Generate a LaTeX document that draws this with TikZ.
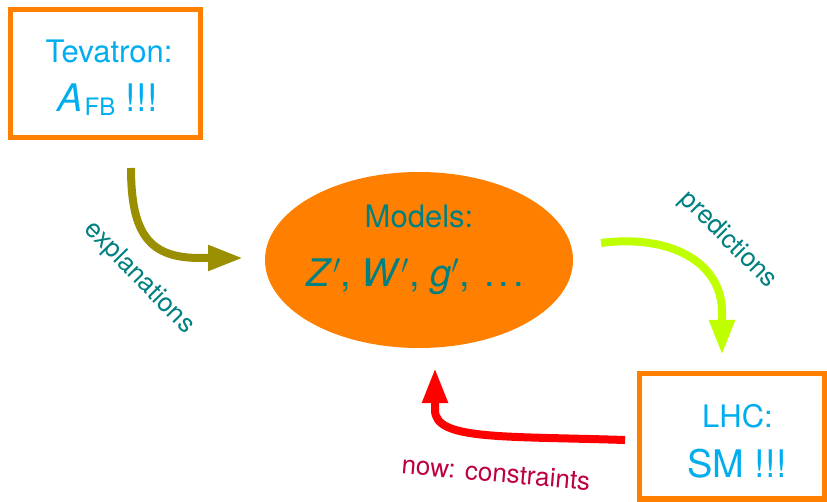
\RequirePackage{fix-cm}
\documentclass[tikz,border=0pt]{standalone}
\usepackage{fontspec}
\setmainfont{TeX Gyre Heros}
\usetikzlibrary{arrows.meta,shapes.geometric}

\definecolor{frameorange}{RGB}{255,128,0}
\definecolor{skytext}{RGB}{0,174,239}
\definecolor{tealtext}{RGB}{0,128,128}
\definecolor{olivearrow}{RGB}{153,143,0}
\definecolor{limearrow}{RGB}{191,255,0}
\definecolor{flowred}{RGB}{255,0,0}
\definecolor{constrainttext}{RGB}{191,0,64}

\tikzset{
  framebox/.style={draw=frameorange, line width=5.5pt, fill=white, inner sep=0pt},
  headline/.style={font=\fontsize{31}{37}\selectfont, inner sep=0pt, anchor=base},
  bigline/.style={font=\fontsize{38}{45}\selectfont, inner sep=0pt, anchor=base},
  sidelabel/.style={font=\fontsize{26}{31}\selectfont, text=tealtext, inner sep=0pt},
  flow/.style={line width=8pt, -{Triangle[length=35pt,width=24pt]}},
}

\begin{document}
\begin{tikzpicture}[x=1pt,y=-1pt]
\useasboundingbox (0,0) rectangle (827,502);
\fill[white] (0,0) rectangle (827,502);

% Tevatron box
\node[framebox, minimum width=190pt, minimum height=128pt] (tev) at (105.5,73.5) {};
\node[headline, text=skytext] (tevname) at (109,63) {Tevatron:};
\node[bigline, text=skytext] (afb) at (107.5,112)
  {\textit{A}\kern0.05em\raisebox{-4pt}{\fontsize{24}{24}\selectfont FB} !!!};

% central ellipse with the models
\node[ellipse, fill=frameorange, minimum width=308pt, minimum height=176pt, inner sep=0pt] (models) at (419,260) {};
\node[headline, text=tealtext] (modelsname) at (419,228) {Models:};
\node[bigline, text=tealtext] (modellist) at (415.5,287)
  {\textit{Z}$'$, \textit{W}$'$, \textit{g}$'$,\kern0.1em\ .\kern0.11em.\kern0.11em.};

% LHC box
\node[framebox, minimum width=185.5pt, minimum height=125.5pt] (lhc) at (732.25,436.25) {};
\node[headline, text=skytext] (lhcname) at (737.5,427) {LHC:};
\node[bigline, text=skytext] (sm) at (737,477) {SM !!!};

% arrow end points
\coordinate (explstart) at (131,168);
\coordinate (explend) at (243,258);
\coordinate (predstart) at (601,243);
\coordinate (predend) at (722,355);
\coordinate (constart) at (625,440);
\coordinate (conend) at (435,368);

% arrows
\draw[flow, olivearrow] (explstart) .. controls (131,235) and (150,258) .. (200,258) -- (explend);
\draw[flow, limearrow] (predstart) .. controls (670,234) and (722,262) .. (722,312) -- (predend);
\draw[flow, flowred] (constart) .. controls (500,436) and (435,440) .. (435,410) -- (conend);

% arrow labels
\node[sidelabel, rotate=-45.5] (expllabel) at (139,278) {explanations};
\node[sidelabel, rotate=-45] (predlabel) at (728,240) {predictions};
\node[sidelabel, text=constrainttext, rotate=-5] (conlabel) at (496,473) {now: constraints};
\end{tikzpicture}
\end{document}
